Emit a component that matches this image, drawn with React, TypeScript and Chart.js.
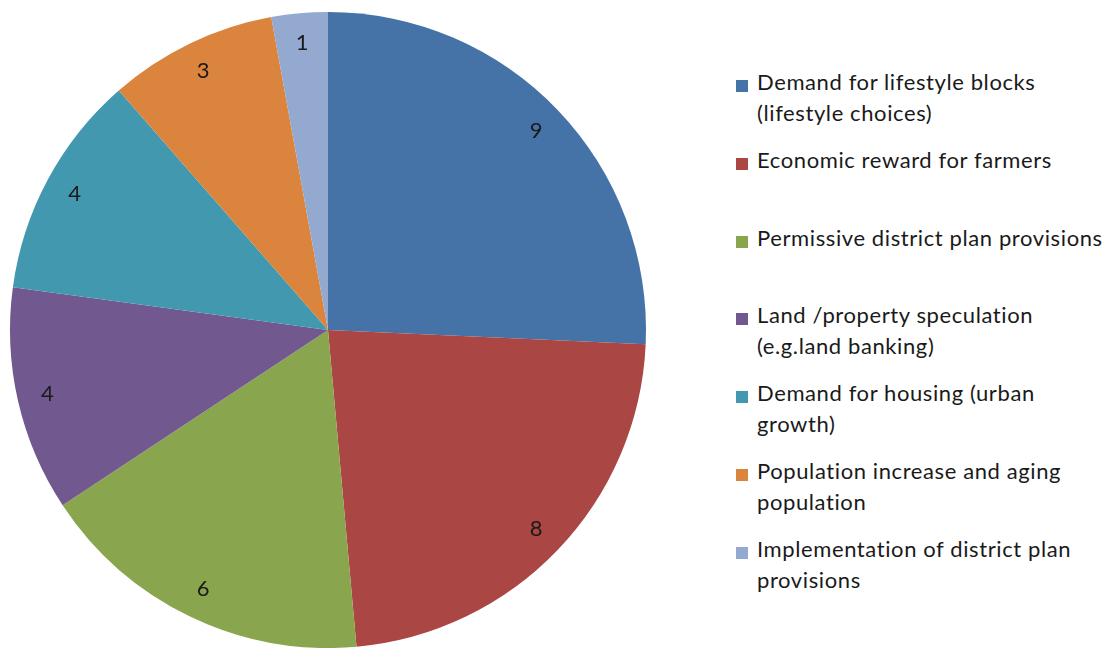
import React, { useEffect, useRef } from "react";
import { Chart, registerables } from "chart.js";

Chart.register(...registerables);

const categories: string[][] = [
  ["Demand for lifestyle blocks", "(lifestyle choices)"],
  ["Economic reward for farmers"],
  ["Permissive district plan provisions"],
  ["Land /property speculation", "(e.g.land banking)"],
  ["Demand for housing (urban", "growth)"],
  ["Population increase and aging", "population"],
  ["Implementation of district plan", "provisions"],
];
const values: number[] = [9, 8, 6, 4, 4, 3, 1];
const colors: string[] = [
  "#4572A7",
  "#AA4643",
  "#89A54E",
  "#71588F",
  "#4198AF",
  "#DB843D",
  "#93A9CF",
];

const FONT = "Lato, 'Open Sans', sans-serif";

const labelPlugin = {
  id: "sliceLabels",
  afterDatasetsDraw(chart: any) {
    const ctx = chart.ctx;
    const meta = chart.getDatasetMeta(0);
    ctx.save();
    ctx.fillStyle = "#1a1a1a";
    ctx.font = `22px ${FONT}`;
    ctx.textAlign = "center";
    ctx.textBaseline = "middle";
    meta.data.forEach((arc: any, i: number) => {
      const p = arc.getProps(["startAngle", "endAngle", "outerRadius", "x", "y"], true);
      const mid = (p.startAngle + p.endAngle) / 2;
      const r = p.outerRadius * 0.905;
      ctx.fillText(String(values[i]), p.x + Math.cos(mid) * r, p.y + Math.sin(mid) * r);
    });
    ctx.restore();
  },
};

export default function App() {
  const ref = useRef<HTMLCanvasElement | null>(null);
  useEffect(() => {
    document.body.style.margin = "0";
    const chart = new Chart(ref.current!, {
      type: "pie",
      data: {
        labels: categories.map((c) => c.join(" ")),
        datasets: [
          {
            data: values,
            backgroundColor: colors,
            borderWidth: 0,
          },
        ],
      },
      options: {
        animation: false,
        responsive: false,
        layout: { padding: { left: 10, right: 10, top: 12, bottom: 0 } },
        plugins: {
          legend: { display: false },
          tooltip: { enabled: false },
        },
      },
      plugins: [labelPlugin],
    });
    return () => chart.destroy();
  }, []);

  return (
    <div style={{ position: "relative", width: 1118, height: 648, background: "#fff", overflow: "hidden" }}>
      <canvas ref={ref} width={656} height={648} style={{ position: "absolute", left: 0, top: 0 }} />
      <div
        style={{
          position: "absolute",
          left: 736,
          top: 66,
          fontFamily: FONT,
          fontSize: 22,
          letterSpacing: "0.6px",
          color: "#1a1a1a",
        }}
      >
        {categories.map((lines, i) => (
          <div key={i} style={{ position: "relative", height: 77.8, lineHeight: "31px" }}>
            <div
              style={{
                position: "absolute",
                left: 0,
                top: 14,
                width: 12,
                height: 12,
                background: colors[i],
              }}
            />
            <div style={{ position: "absolute", left: 21, top: 0, whiteSpace: "nowrap" }}>
              {lines.map((l, j) => (
                <div key={j}>{l}</div>
              ))}
            </div>
          </div>
        ))}
      </div>
    </div>
  );
}
